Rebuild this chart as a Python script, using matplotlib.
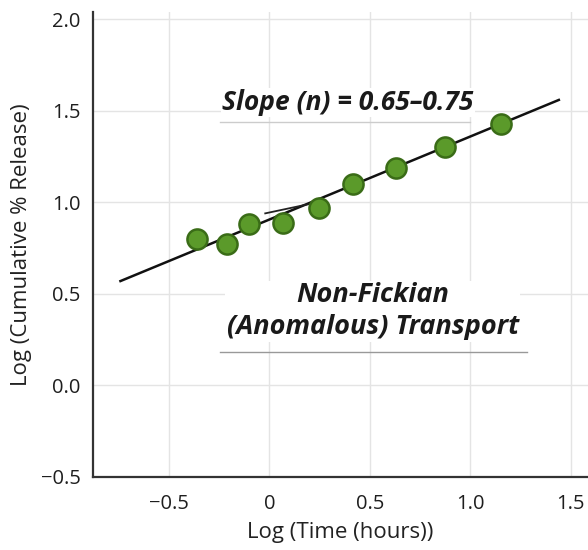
import matplotlib
matplotlib.use("Agg")
import matplotlib.pyplot as plt
from matplotlib import font_manager as fm

# Data
log_time = [-0.36, -0.21, -0.10, 0.07, 0.245, 0.415, 0.63, 0.875, 1.15]
log_release = [0.80, 0.77, 0.88, 0.89, 0.97, 1.10, 1.19, 1.30, 1.43]
fit_x = [-0.74, 1.44]
fit_y = [0.57, 1.56]
stub_x = [-0.02, 0.28]
stub_y = [0.94, 1.01]
x_ticks = [-0.5, 0, 0.5, 1.0, 1.5]
x_tick_labels = ["\u22120.5", "0", "0.5", "1.0", "1.5"]
y_ticks = [-0.5, 0.0, 0.5, 1.0, 1.5, 2.0]
y_tick_labels = ["\u22120.5", "0.0", "0.5", "1.0", "1.5", "2.0"]

names = {f.name for f in fm.fontManager.ttflist}
base = "Open Sans" if "Open Sans" in names else "DejaVu Sans"
plt.rcParams['font.family'] = [base, 'DejaVu Sans']

fig = plt.figure(figsize=(5.88, 5.5), dpi=100)
ax = fig.add_axes([0.158, 0.133, 0.842, 0.845])

ax.set_xlim(-0.877, 1.585)
ax.set_ylim(-0.5, 2.04)
ax.set_xticks(x_ticks)
ax.set_xticklabels(x_tick_labels)
ax.set_yticks(y_ticks)
ax.set_yticklabels(y_tick_labels)
ax.tick_params(length=0, labelsize=14.5, colors="#1e1e1e")
ax.tick_params(axis="x", pad=12)
ax.tick_params(axis="y", pad=9)
ax.grid(True, color="#e4e4e4", linewidth=1)
ax.set_axisbelow(True)
for s in ["top", "right"]:
    ax.spines[s].set_visible(False)
for s in ["left", "bottom"]:
    ax.spines[s].set_color("#333333")
    ax.spines[s].set_linewidth(1.6)

ax.plot(fit_x, fit_y, color="#111111", linewidth=1.8, zorder=3)
ax.plot(stub_x, stub_y, color="#222222", linewidth=1.3, zorder=3)
ax.scatter(log_time, log_release, s=210, color="#5b9a2a", edgecolor="#3a6c17",
           linewidth=1.8, zorder=4)

ax.text(0.39, 1.545, "Slope (n) = 0.65\u20130.75", ha="center", va="center",
        fontsize=19, fontstyle="italic", fontweight="bold",
        color="#1a1a1a", zorder=5,
        bbox=dict(facecolor="white", edgecolor="none", pad=1))
ax.plot([-0.245, 1.0], [1.44, 1.44], color="#cccccc", linewidth=1, zorder=5)

ax.text(0.515, 0.405, "Non-Fickian\n(Anomalous) Transport", ha="center", va="center",
        fontsize=19.5, fontstyle="italic", fontweight="bold",
        color="#1a1a1a", linespacing=1.3, zorder=5,
        bbox=dict(facecolor="white", edgecolor="none", pad=1))
ax.plot([-0.245, 1.28], [0.18, 0.18], color="#999999", linewidth=1, zorder=5)

ax.set_xlabel("Log (Time (hours))", fontsize=16, color="#222222", labelpad=6)
ax.set_ylabel("Log (Cumulative % Release)", fontsize=16, color="#222222", labelpad=6)

fig.savefig("out.png", dpi=100)
